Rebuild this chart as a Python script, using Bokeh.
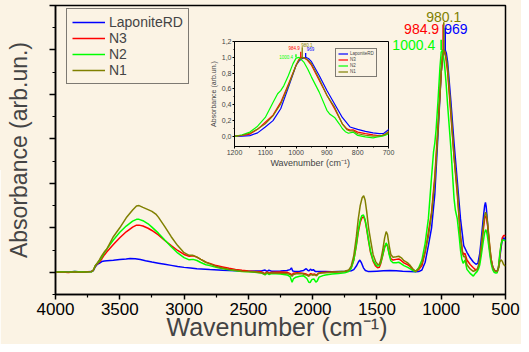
from bokeh.plotting import figure
from bokeh.models import Range1d, FixedTicker, CustomJSTickFormatter
from bokeh.layouts import column
from bokeh.core.properties import value
from bokeh.embed import file_html
from bokeh.resources import INLINE

# ---------------- data (wavenumber cm-1, absorbance arb.un.) ----------------
series_names = ["LaponiteRD", "N3", "N2", "N1"]

laponite_rd = [
    (4000, 0.000), (3950, 0.002), (3900, 0.001), (3850, 0.003), (3800, 0.001), (3750, 0.002),
    (3720, 0.003), (3705, 0.008), (3690, 0.025), (3675, 0.036), (3660, 0.040), (3640, 0.048),
    (3620, 0.051), (3600, 0.052), (3550, 0.054), (3500, 0.057), (3450, 0.060), (3420, 0.062),
    (3380, 0.061), (3340, 0.057), (3300, 0.052), (3250, 0.046), (3200, 0.041), (3150, 0.036),
    (3100, 0.031), (3050, 0.026), (3000, 0.022), (2950, 0.019), (2900, 0.016), (2800, 0.012),
    (2700, 0.009), (2600, 0.007), (2500, 0.005), (2400, 0.006), (2370, 0.010), (2355, 0.004),
    (2340, 0.009), (2320, 0.005), (2250, 0.006), (2200, 0.008), (2175, 0.012), (2165, 0.020),
    (2155, 0.006), (2140, 0.004), (2100, 0.005), (2070, 0.008), (2050, 0.016), (2040, 0.010),
    (2030, 0.006), (2015, 0.014), (2005, 0.008), (1995, 0.012), (1980, 0.004), (1950, 0.003),
    (1900, 0.003), (1850, 0.002), (1800, 0.003), (1750, 0.004), (1700, 0.007), (1680, 0.012),
    (1660, 0.028), (1645, 0.045), (1633, 0.055), (1620, 0.042), (1605, 0.020), (1590, 0.008),
    (1570, 0.004), (1550, 0.003), (1500, 0.005), (1450, 0.007), (1400, 0.008), (1350, 0.007),
    (1300, 0.005), (1250, 0.004), (1200, 0.002), (1175, 0.003), (1150, 0.010), (1125, 0.045),
    (1100, 0.120), (1075, 0.200), (1050, 0.350), (1025, 0.620), (1000, 0.900), (990, 0.955),
    (980, 0.985), (969, 1.000), (960, 0.985), (950, 0.945), (925, 0.770), (900, 0.580),
    (875, 0.410), (850, 0.240), (825, 0.120), (800, 0.090), (775, 0.065), (750, 0.046),
    (730, 0.036), (715, 0.040), (700, 0.085), (690, 0.140), (680, 0.200), (670, 0.260),
    (662, 0.300), (656, 0.314), (650, 0.295), (642, 0.240), (635, 0.180), (625, 0.110),
    (615, 0.065), (605, 0.035), (595, 0.018), (585, 0.008), (575, 0.004), (565, 0.006),
    (555, 0.020), (545, 0.060), (535, 0.110), (525, 0.145), (515, 0.155), (505, 0.150),
    (500, 0.145),
]

n3 = [
    (4000, 0.000), (3950, 0.001), (3900, -0.001), (3850, 0.002), (3800, 0.000), (3750, 0.002),
    (3720, 0.003), (3705, 0.010), (3690, 0.028), (3675, 0.038), (3660, 0.045), (3640, 0.060),
    (3620, 0.078), (3600, 0.092), (3550, 0.125), (3500, 0.155), (3450, 0.182), (3400, 0.203),
    (3370, 0.212), (3350, 0.212), (3320, 0.208), (3280, 0.198), (3250, 0.188), (3200, 0.168),
    (3150, 0.143), (3100, 0.120), (3050, 0.098), (3000, 0.080), (2960, 0.072), (2930, 0.074),
    (2900, 0.068), (2870, 0.058), (2830, 0.045), (2800, 0.040), (2750, 0.030), (2700, 0.024),
    (2650, 0.018), (2600, 0.013), (2550, 0.009), (2500, 0.006), (2450, 0.004), (2400, 0.002),
    (2370, -0.006), (2355, 0.002), (2340, -0.004), (2320, 0.000), (2250, 0.001), (2200, 0.000),
    (2175, -0.006), (2160, -0.012), (2150, -0.004), (2120, -0.002), (2080, -0.004), (2050, -0.008),
    (2030, -0.014), (2015, -0.006), (2000, -0.010), (1985, -0.008), (1970, -0.013), (1955, -0.004),
    (1930, -0.001), (1900, 0.000), (1850, 0.001), (1800, 0.002), (1750, 0.004), (1720, 0.008),
    (1700, 0.020), (1680, 0.055), (1660, 0.120), (1645, 0.180), (1630, 0.225), (1615, 0.246),
    (1603, 0.250), (1592, 0.232), (1580, 0.195), (1565, 0.140), (1550, 0.090), (1530, 0.050),
    (1510, 0.028), (1495, 0.020), (1482, 0.022), (1470, 0.040), (1455, 0.075), (1440, 0.112),
    (1428, 0.128), (1418, 0.118), (1405, 0.085), (1392, 0.062), (1375, 0.055), (1350, 0.058),
    (1330, 0.060), (1310, 0.052), (1290, 0.042), (1260, 0.034), (1240, 0.025), (1220, 0.012),
    (1200, 0.004), (1175, 0.012), (1150, 0.030), (1125, 0.090), (1100, 0.180), (1075, 0.270),
    (1050, 0.430), (1025, 0.660), (1000, 0.900), (992, 0.965), (985, 1.000), (975, 0.995),
    (965, 0.970), (950, 0.900), (925, 0.710), (900, 0.520), (875, 0.350), (850, 0.160),
    (835, 0.095), (825, 0.080), (815, 0.085), (800, 0.055), (775, 0.035), (750, 0.020),
    (735, 0.012), (720, 0.013), (710, 0.025), (700, 0.050), (690, 0.095), (680, 0.150),
    (670, 0.205), (662, 0.240), (655, 0.255), (648, 0.248), (640, 0.215), (632, 0.170),
    (622, 0.110), (612, 0.060), (600, 0.025), (588, 0.010), (575, 0.004), (565, 0.003),
    (555, 0.020), (545, 0.070), (535, 0.120), (525, 0.155), (515, 0.165), (505, 0.165),
    (500, 0.162),
]

n2 = [
    (4000, 0.000), (3950, 0.002), (3900, 0.000), (3850, 0.003), (3800, 0.001), (3750, 0.002),
    (3720, 0.002), (3705, 0.010), (3690, 0.030), (3675, 0.040), (3660, 0.050), (3640, 0.068),
    (3620, 0.088), (3600, 0.105), (3550, 0.145), (3500, 0.180), (3450, 0.208), (3400, 0.230),
    (3370, 0.238), (3350, 0.238), (3320, 0.232), (3280, 0.218), (3250, 0.203), (3200, 0.176),
    (3150, 0.145), (3100, 0.115), (3050, 0.087), (3000, 0.066), (2960, 0.056), (2930, 0.058),
    (2900, 0.053), (2870, 0.044), (2830, 0.034), (2800, 0.030), (2750, 0.022), (2700, 0.016),
    (2650, 0.011), (2600, 0.007), (2550, 0.004), (2500, 0.002), (2450, 0.000), (2400, -0.003),
    (2370, -0.012), (2355, -0.004), (2340, -0.010), (2320, -0.006), (2250, -0.008), (2200, -0.012),
    (2175, -0.020), (2160, -0.045), (2150, -0.030), (2130, -0.022), (2100, -0.018), (2070, -0.016),
    (2045, -0.028), (2030, -0.045), (2020, -0.046), (2005, -0.032), (1990, -0.030), (1975, -0.044),
    (1965, -0.040), (1950, -0.022), (1920, -0.015), (1900, -0.012), (1850, -0.008), (1800, -0.005),
    (1750, -0.002), (1720, 0.003), (1700, 0.018), (1680, 0.055), (1660, 0.125), (1645, 0.190),
    (1630, 0.235), (1617, 0.255), (1605, 0.258), (1593, 0.240), (1580, 0.200), (1565, 0.145),
    (1550, 0.095), (1530, 0.055), (1510, 0.035), (1495, 0.028), (1482, 0.030), (1470, 0.045),
    (1455, 0.078), (1440, 0.115), (1428, 0.132), (1418, 0.120), (1405, 0.080), (1392, 0.052),
    (1375, 0.043), (1350, 0.043), (1330, 0.045), (1310, 0.038), (1290, 0.030), (1260, 0.022),
    (1240, 0.015), (1220, 0.008), (1200, 0.002), (1175, 0.020), (1150, 0.055), (1125, 0.130),
    (1100, 0.240), (1075, 0.430), (1060, 0.540), (1050, 0.580), (1040, 0.640), (1025, 0.770),
    (1010, 0.920), (1000, 0.990), (990, 1.000), (975, 0.940), (962, 0.850), (950, 0.750),
    (925, 0.560), (900, 0.330), (890, 0.280), (875, 0.240), (860, 0.160), (850, 0.100),
    (840, 0.060), (830, 0.040), (815, 0.055), (800, 0.013), (775, -0.005), (750, -0.017),
    (735, -0.005), (720, 0.004), (710, 0.015), (700, 0.034), (690, 0.070), (680, 0.110),
    (670, 0.150), (662, 0.178), (655, 0.192), (648, 0.185), (640, 0.160), (632, 0.125),
    (622, 0.080), (612, 0.040), (600, 0.012), (588, 0.000), (575, -0.004), (565, -0.002),
    (555, 0.020), (545, 0.080), (535, 0.125), (525, 0.145), (515, 0.145), (505, 0.142),
    (500, 0.140),
]

n1 = [
    (4000, 0.000), (3950, 0.001), (3900, 0.000), (3850, 0.002), (3800, 0.000), (3750, 0.002),
    (3720, 0.003), (3705, 0.010), (3690, 0.030), (3675, 0.042), (3660, 0.055), (3640, 0.075),
    (3620, 0.092), (3600, 0.105), (3550, 0.160), (3500, 0.200), (3450, 0.245), (3400, 0.280),
    (3370, 0.298), (3350, 0.300), (3320, 0.292), (3280, 0.282), (3250, 0.274), (3220, 0.262),
    (3200, 0.248), (3150, 0.205), (3100, 0.160), (3050, 0.120), (3000, 0.088), (2960, 0.076),
    (2930, 0.076), (2900, 0.068), (2870, 0.058), (2830, 0.045), (2800, 0.038), (2750, 0.026),
    (2700, 0.019), (2650, 0.013), (2600, 0.009), (2550, 0.005), (2500, 0.003), (2450, 0.001),
    (2400, -0.002), (2370, -0.008), (2355, 0.000), (2340, -0.006), (2320, -0.003), (2250, -0.004),
    (2200, -0.006), (2175, -0.010), (2160, -0.018), (2150, -0.010), (2120, -0.006), (2080, -0.007),
    (2050, -0.012), (2030, -0.018), (2015, -0.010), (2000, -0.013), (1985, -0.011), (1970, -0.016),
    (1955, -0.006), (1930, -0.003), (1900, -0.002), (1850, 0.000), (1800, 0.002), (1750, 0.005),
    (1720, 0.010), (1700, 0.028), (1680, 0.075), (1660, 0.160), (1645, 0.240), (1630, 0.300),
    (1615, 0.335), (1603, 0.344), (1592, 0.325), (1580, 0.275), (1565, 0.200), (1548, 0.140),
    (1530, 0.080), (1510, 0.048), (1495, 0.036), (1482, 0.035), (1470, 0.055), (1455, 0.100),
    (1440, 0.155), (1428, 0.183), (1418, 0.170), (1405, 0.120), (1392, 0.080), (1375, 0.068),
    (1350, 0.070), (1330, 0.072), (1310, 0.065), (1290, 0.052), (1260, 0.042), (1240, 0.030),
    (1220, 0.015), (1200, 0.004), (1175, 0.015), (1150, 0.040), (1125, 0.095), (1100, 0.160),
    (1075, 0.260), (1050, 0.410), (1025, 0.640), (1000, 0.900), (990, 0.970), (980, 1.000),
    (970, 0.990), (960, 0.960), (950, 0.920), (925, 0.730), (900, 0.520), (875, 0.370),
    (850, 0.160), (835, 0.085), (825, 0.070), (815, 0.072), (800, 0.034), (775, 0.015),
    (750, 0.004), (735, 0.008), (720, 0.013), (710, 0.030), (700, 0.063), (690, 0.110),
    (680, 0.165), (670, 0.220), (662, 0.255), (655, 0.270), (648, 0.260), (640, 0.225),
    (632, 0.175), (622, 0.115), (612, 0.060), (600, 0.025), (588, 0.010), (575, 0.004),
    (565, 0.003), (555, 0.015), (545, 0.045), (535, 0.056), (525, 0.050), (515, 0.035),
    (505, 0.030), (500, 0.028),
]

# peak positions annotated on the main band (same order as series_names)
peak_wavenumbers = [969, 984.9, 1000.4, 980.1]
peak_labels = ["969", "984.9", "1000.4", "980.1"]
marker_tops_main = [1.100, 1.114, 1.046, 1.125]
marker_tops_inset = [1.054, 1.070, 1.040, 1.127]

main_x_ticks = [4000, 3500, 3000, 2500, 2000, 1500, 1000, 500]
main_y_ticks = [0.0, 0.2, 0.4, 0.6, 0.8, 1.0, 1.2]
inset_x_ticks = [1200, 1100, 1000, 900, 800, 700]
inset_y_ticks = [0.0, 0.2, 0.4, 0.6, 0.8, 1.0, 1.2]

# ---------------- styling ----------------
BG = "#FBF3E4"
FONT = "Liberation Sans"
colors = ["#0000FF", "#FF0000", "#00FF00", "#808000"]
all_series = [laponite_rd, n3, n2, n1]


def minors(ticks):
    return [(a + b) / 2 for a, b in zip(ticks[:-1], ticks[1:])]


# ---------------- main figure ----------------
p = figure(width=521, height=344, x_range=Range1d(4000, 500), y_range=Range1d(-0.1, 1.2),
           output_backend="svg", toolbar_location=None,
           min_border_left=55, min_border_right=16, min_border_top=5, min_border_bottom=50,
           background_fill_color=BG, border_fill_color=BG,
           outline_line_color="black", outline_line_width=1.5)
p.grid.visible = False

for name, data, col in zip(series_names, all_series, colors):
    xs = [d[0] for d in data]
    ys = [d[1] for d in data]
    p.line(xs, ys, line_color=col, line_width=1.5, legend_label=name)

bases = [max(d[1] for d in data) for data in all_series]
p.segment(x0=peak_wavenumbers, y0=bases, x1=peak_wavenumbers, y1=marker_tops_main,
          line_color=colors, line_width=1.6)

label_styles = [  # align, baseline, x_offset, y_offset (pixels)
    ("left", "middle", -1, 1),
    ("right", "middle", -4, 4),
    ("right", "middle", -6, 5),
    ("center", "bottom", 0, 0),
]
for wn, top, txt, col, (al, bl, xo, yo) in zip(peak_wavenumbers, marker_tops_main, peak_labels,
                                              colors, label_styles):
    p.text(x=[wn], y=[top], text=[txt], text_color=col, text_font=value(FONT),
           text_font_size="14px", text_align=al, text_baseline=bl, x_offset=xo, y_offset=yo)

xa = p.xaxis[0]
xa.ticker = FixedTicker(ticks=main_x_ticks, minor_ticks=minors(main_x_ticks))
xa.major_tick_out = 5
xa.major_tick_in = 0
xa.minor_tick_out = 3
xa.minor_tick_in = 0
xa.axis_line_width = 1.5
xa.major_tick_line_width = 1.5
xa.minor_tick_line_width = 1.2
xa.major_label_standoff = 3
xa.major_label_text_font = FONT
xa.major_label_text_font_size = "17px"
xa.major_label_text_color = "black"
xa.axis_label = "Wavenumber  (cm\u207b\u00b9)"
xa.axis_label_text_font = FONT
xa.axis_label_text_font_size = "25px"
xa.axis_label_text_font_style = "normal"
xa.axis_label_standoff = -5

ya = p.yaxis[0]
ya.ticker = FixedTicker(ticks=main_y_ticks,
                        minor_ticks=[-0.1] + minors(main_y_ticks))
ya.formatter = CustomJSTickFormatter(code="return ''")
ya.major_tick_out = 6
ya.major_tick_in = 0
ya.minor_tick_out = 3
ya.minor_tick_in = 0
ya.axis_line_width = 1.5
ya.major_tick_line_width = 1.5
ya.minor_tick_line_width = 1.2
ya.major_label_standoff = 0
ya.axis_label = "Absorbance (arb.un.)"
ya.axis_label_text_font = FONT
ya.axis_label_text_font_size = "23px"
ya.axis_label_text_font_style = "normal"
ya.axis_label_standoff = 18

lg = p.legend[0]
lg.location = (11, 210)
lg.margin = 0
lg.padding = 5
lg.spacing = 0
lg.glyph_width = 33
lg.glyph_height = 16
lg.label_height = 16
lg.label_standoff = 4
lg.label_text_font = FONT
lg.label_text_font_size = "14px"
lg.border_line_color = "black"
lg.border_line_width = 1.5
lg.background_fill_color = BG
lg.background_fill_alpha = 1.0

# ---------------- inset figure ----------------
# (the column aligns side borders with the main figure: 55 px left, 16 px right)
ins = figure(width=225, height=136, x_range=Range1d(1200, 700), y_range=Range1d(-0.127, 1.2),
             output_backend="svg", toolbar_location=None,
             min_border_left=55, min_border_right=16, min_border_top=7, min_border_bottom=24,
             background_fill_color=BG, border_fill_color=BG, border_fill_alpha=0.0,
             outline_line_color="black", outline_line_width=1)
ins.grid.visible = False

for name, data, col in zip(series_names, all_series, colors):
    xs = [d[0] for d in data]
    ys = [d[1] for d in data]
    ins.line(xs, ys, line_color=col, line_width=1.2, legend_label=name)

ins.segment(x0=peak_wavenumbers, y0=bases, x1=peak_wavenumbers, y1=marker_tops_inset,
            line_color=colors, line_width=1.3)
inset_label_styles = [
    ("left", "middle", 1, -4),
    ("right", "middle", -1, -4),
    ("right", "middle", -3, 3),
    ("left", "middle", -1, -2),
]
for wn, top, txt, col, (al, bl, xo, yo) in zip(peak_wavenumbers, marker_tops_inset, peak_labels,
                                              colors, inset_label_styles):
    ins.text(x=[wn], y=[top], text=[txt], text_color=col, text_font=value(FONT),
             text_font_size="4.5px", text_align=al, text_baseline=bl, x_offset=xo, y_offset=yo)

ixa = ins.xaxis[0]
ixa.ticker = FixedTicker(ticks=inset_x_ticks, minor_ticks=minors(inset_x_ticks))
ixa.major_tick_out = 2
ixa.major_tick_in = 0
ixa.minor_tick_out = 1
ixa.minor_tick_in = 0
ixa.major_label_standoff = 1
ixa.major_label_text_font = FONT
ixa.major_label_text_font_size = "7px"
ixa.axis_label = "Wavenumber  (cm\u207b\u00b9)"
ixa.axis_label_text_font = FONT
ixa.axis_label_text_font_size = "9px"
ixa.axis_label_text_font_style = "normal"
ixa.axis_label_standoff = 0

iya = ins.yaxis[0]
iya.ticker = FixedTicker(ticks=inset_y_ticks, minor_ticks=minors(inset_y_ticks))
iya.formatter = CustomJSTickFormatter(code="return tick.toFixed(1).replace('.', ',')")
iya.major_tick_out = 2
iya.major_tick_in = 0
iya.minor_tick_out = 1
iya.minor_tick_in = 0
iya.major_label_standoff = 1
iya.major_label_text_font = FONT
iya.major_label_text_font_size = "7px"
iya.axis_label = "Absorbance (arb.un.)"
iya.axis_label_text_font = FONT
iya.axis_label_text_font_size = "7px"
iya.axis_label_text_font_style = "normal"
iya.axis_label_standoff = 2

ilg = ins.legend[0]
ilg.location = (101, 69)
ilg.margin = 0
ilg.padding = 2
ilg.spacing = 1
ilg.glyph_width = 10
ilg.glyph_height = 5
ilg.label_height = 5
ilg.label_width = 10
ilg.label_standoff = 2
ilg.label_text_font = FONT
ilg.label_text_font_size = "4.5px"
ilg.border_line_color = "black"
ilg.border_line_width = 1
ilg.background_fill_color = BG
ilg.background_fill_alpha = 1.0

ins.margin = (-310, 0, 0, 179)

layout = column(p, ins, spacing=0)
layout.background = BG

open("out.html", "w").write(file_html(layout, INLINE))
